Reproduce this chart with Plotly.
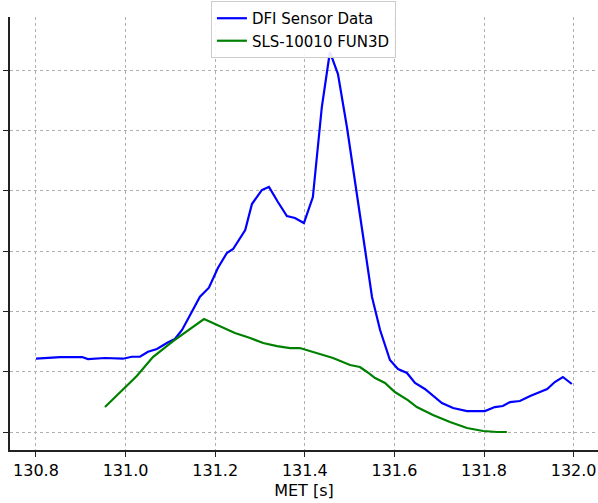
import plotly.graph_objects as go

# DFI Sensor Data (blue)
dfi_t = [130.800, 130.854, 130.903, 130.916, 130.954, 130.994, 131.014, 131.032, 131.050,
         131.070, 131.092, 131.110, 131.126, 131.148, 131.166, 131.186, 131.206, 131.226,
         131.240, 131.267, 131.282, 131.304, 131.320, 131.340, 131.360, 131.378, 131.398,
         131.418, 131.438, 131.456, 131.474, 131.494, 131.512, 131.534, 131.550, 131.568,
         131.590, 131.608, 131.628, 131.646, 131.668, 131.686, 131.706, 131.731, 131.762,
         131.784, 131.802, 131.824, 131.842, 131.858, 131.880, 131.903, 131.941, 131.958,
         131.976, 131.996]
dfi_v = [1.215, 1.243, 1.243, 1.210, 1.227, 1.215, 1.248, 1.248, 1.331,
         1.376, 1.475, 1.541, 1.691, 1.994, 2.243, 2.392, 2.718, 2.967,
         3.033, 3.348, 3.779, 4.011, 4.061, 3.812, 3.580, 3.547, 3.464,
         3.895, 5.387, 6.299, 5.934, 5.055, 4.177, 3.050, 2.238, 1.691,
         1.193, 1.044, 0.978, 0.812, 0.713, 0.597, 0.481, 0.398, 0.348,
         0.348, 0.348, 0.414, 0.431, 0.497, 0.514, 0.597, 0.713, 0.829,
         0.912, 0.796]

# SLS-10010 FUN3D (green)
cfd_t = [130.954, 130.999, 131.025, 131.061, 131.106, 131.175, 131.211, 131.244, 131.278,
         131.307, 131.338, 131.367, 131.389, 131.418, 131.463, 131.501, 131.523, 131.539,
         131.557, 131.579, 131.601, 131.630, 131.650, 131.686, 131.724, 131.762, 131.798,
         131.829, 131.851]
cfd_v = [0.414, 0.729, 0.928, 1.243, 1.508, 1.873, 1.757, 1.641, 1.558,
         1.475, 1.425, 1.392, 1.392, 1.326, 1.227, 1.111, 1.077, 0.995,
         0.895, 0.812, 0.663, 0.530, 0.414, 0.282, 0.166, 0.066, 0.017,
         0.000, 0.000]

x_ticks = [130.8, 131.0, 131.2, 131.4, 131.6, 131.8, 132.0]
x_tick_labels = ["130.8", "131.0", "131.2", "131.4", "131.6", "131.8", "132.0"]
y_ticks = [0, 1, 2, 3, 4, 5, 6]

fig = go.Figure()
fig.add_trace(go.Scatter(x=dfi_t, y=dfi_v, mode="lines", name="DFI Sensor Data",
                         line=dict(color="#0000ff", width=2.2)))
fig.add_trace(go.Scatter(x=cfd_t, y=cfd_v, mode="lines", name="SLS-10010 FUN3D",
                         line=dict(color="#008000", width=2.2)))

font = "DejaVu Sans, sans-serif"
fig.update_layout(
    width=598, height=503,
    margin=dict(l=10, r=0, t=17, b=53),
    paper_bgcolor="white", plot_bgcolor="white",
    font=dict(family=font, size=16, color="black"),
    showlegend=True,
    legend=dict(x=0.499, y=1.037, xanchor="center", yanchor="top",
                bgcolor="rgba(255,255,255,0.9)", bordercolor="#cccccc", borderwidth=1,
                font=dict(family=font, size=15), itemwidth=30, tracegroupgap=0),
    xaxis=dict(range=[130.742, 132.0544], tickvals=x_ticks, ticktext=x_tick_labels,
               showgrid=True, gridcolor="#b0b0b0", griddash="dot", gridwidth=1,
               showline=True, linecolor="#222222", linewidth=1.5, mirror=False,
               ticks="outside", ticklen=5, tickwidth=1.2, tickcolor="#222222",
               zeroline=False,
               title=dict(text="MET [s]", font=dict(family=font, size=16), standoff=6),
               tickfont=dict(family=font, size=16)),
    yaxis=dict(range=[-0.298, 6.879], tickvals=y_ticks, showticklabels=False,
               showgrid=True, gridcolor="#b0b0b0", griddash="dot", gridwidth=1,
               showline=True, linecolor="#222222", linewidth=1.5, mirror=False,
               ticks="outside", ticklen=5, tickwidth=1.2, tickcolor="#222222",
               zeroline=False),
)

fig.write_html("out.html")
